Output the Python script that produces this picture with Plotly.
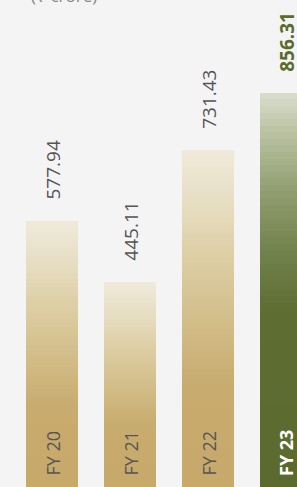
import plotly.graph_objects as go

categories = ["FY 20", "FY 21", "FY 22", "FY 23"]
values = [577.94, 445.11, 731.43, 856.31]
value_labels = ["577.94", "445.11", "731.43", "856.31"]
unit_label = "(₹ crore)"

# style: gradient stops (fraction of bar height from base, colour)
gold_stops = [(0.0, (199, 169, 106)), (0.3, (200, 171, 110)), (0.5, (211, 190, 138)),
              (0.7, (222, 208, 168)), (0.85, (231, 222, 196)), (1.0, (239, 234, 218))]
green_stops = [(0.0, (91, 107, 48)), (0.45, (94, 110, 51)), (0.6, (114, 130, 77)),
               (0.75, (145, 158, 112)), (0.9, (186, 194, 162)), (1.0, (218, 222, 206))]


def interp(stops, t):
    for (f0, c0), (f1, c1) in zip(stops[:-1], stops[1:]):
        if f0 <= t <= f1:
            a = (t - f0) / (f1 - f0) if f1 > f0 else 0
            c = [round(c0[k] + (c1[k] - c0[k]) * a) for k in range(3)]
            return "rgb(%d,%d,%d)" % tuple(c)
    return "rgb(%d,%d,%d)" % stops[-1][1]


fig = go.Figure()
N = 60
for s in range(N):
    f0 = s / N
    mid = (s + 0.5) / N
    colors = [interp(green_stops if i == len(values) - 1 else gold_stops, mid)
              for i in range(len(values))]
    # each layer spans from its start to the bar's value; later layers cover upper parts
    fig.add_trace(go.Bar(
        x=categories,
        y=[v * (1 - f0) for v in values],
        base=[v * f0 for v in values],
        marker=dict(color=colors, line=dict(width=0)),
        width=0.667,
        hoverinfo="skip",
        showlegend=False,
    ))

annotations = []
for i, (c, v, lab) in enumerate(zip(categories, values, value_labels)):
    last = i == len(values) - 1
    annotations.append(dict(
        x=c, y=v, xref="x", yref="y", text=("<b>%s</b>" % lab) if last else lab,
        textangle=-90, showarrow=False, yanchor="bottom", xanchor="center",
        yshift=19, xshift=1,
        font=dict(family="Open Sans", size=19, color="#5a6b2e" if last else "#555555"),
    ))
    annotations.append(dict(
        x=c, y=0, xref="x", yref="y", text=("<b>%s</b>" % c) if last else c,
        textangle=-90, showarrow=False, yanchor="bottom", xanchor="center",
        yshift=9,
        font=dict(family="Open Sans", size=18, color="#ffffff" if last else "#555555"),
    ))
annotations.append(dict(
    x=64 / 297, y=1, xref="paper", yref="paper", text=unit_label, showarrow=False,
    xanchor="center", yanchor="bottom", yshift=-9,
    font=dict(family="Open Sans", size=17, color="#888888"),
))

fig.update_layout(
    width=297, height=487,
    margin=dict(l=0, r=0, t=0, b=0),
    paper_bgcolor="#f4f4f4", plot_bgcolor="#f4f4f4",
    barmode="overlay", bargap=0,
    xaxis=dict(type="category", range=[-0.667, 3.141], visible=False, fixedrange=True),
    yaxis=dict(range=[0, 1058], visible=False, fixedrange=True),
    annotations=annotations,
    showlegend=False,
)

fig.write_html(
    "out.html",
    config={"displayModeBar": False},
    post_script="document.body.style.margin='0';document.body.style.background='#f4f4f4';document.body.style.overflow='hidden';",
)
